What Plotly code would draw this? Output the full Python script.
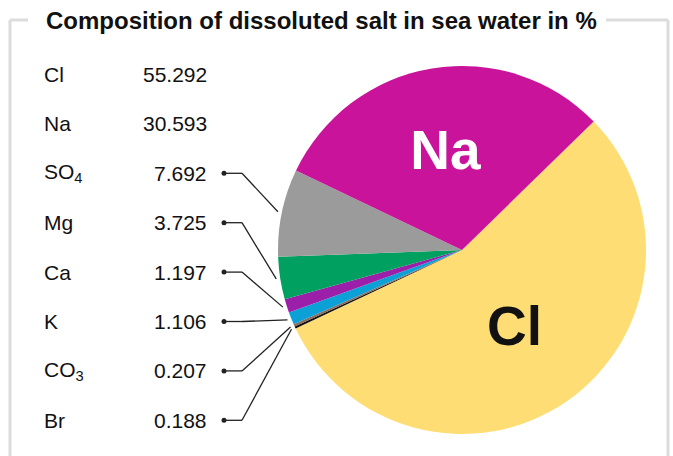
import math
import plotly.graph_objects as go

# ---- data ----
elements = ["Cl", "Na", "SO<sub>4</sub>", "Mg", "Ca", "K", "CO<sub>3</sub>", "Br"]
values = [55.292, 30.593, 7.692, 3.725, 1.197, 1.106, 0.207, 0.188]
value_labels = ["55.292", "30.593", "7.692", "3.725", "1.197", "1.106", "0.207", "0.188"]
colors = ["#FEDE74", "#C8139A", "#9B9B9B", "#00A060", "#9C1FAA", "#0BA0D6", "#8A6C5C", "#111111"]
title = "Composition of dissoluted salt in sea water in %"

# pie drawing order clockwise from the Na/Cl boundary
order = ["Cl", "Br", "CO<sub>3</sub>", "K", "Ca", "Mg", "SO<sub>4</sub>", "Na"]

W, H = 673, 456
CX, CY, R = 462, 250, 184
ROT = 45.7

idx = [elements.index(o) for o in order]
pie_labels = [elements[i] for i in idx]
pie_vals = [values[i] for i in idx]
pie_cols = [colors[i] for i in idx]
tmpl = ["%{label}" if elements[i] in ("Cl", "Na") else "" for i in idx]
txt_cols = ["#111111" if elements[i] == "Cl" else "#FFFFFF" for i in idx]

fig = go.Figure()
fig.add_trace(go.Pie(
    labels=pie_labels, values=pie_vals, sort=False, direction="clockwise",
    rotation=ROT, marker=dict(colors=pie_cols, line=dict(width=0)),
    texttemplate=tmpl, textposition="inside", insidetextorientation="horizontal",
    insidetextfont=dict(family="Liberation Sans", size=55, color=txt_cols, weight="bold"),
    hoverinfo="label+value", showlegend=False,
    domain=dict(x=[(CX - R) / W, (CX + R) / W], y=[1 - (CY + R) / H, 1 - (CY - R) / H]),
))

def px(x):
    return x / W

def py(y):
    return 1 - y / H

shapes = []
annotations = []
frame_col = "#DCDCDC"
# frame
for (x0, y0, x1, y1) in [(10, 20, 10, H + 5), (10, 20, 28, 20), (606, 20, 668, 20), (668, 20, 668, H + 5)]:
    shapes.append(dict(type="line", xref="paper", yref="paper", x0=px(x0), y0=py(y0), x1=px(x1), y1=py(y1),
                       line=dict(color=frame_col, width=3)))

annotations.append(dict(text="<b>" + title + "</b>", xref="paper", yref="paper", x=px(44), y=py(20),
                        xanchor="left", yanchor="middle", showarrow=False,
                        font=dict(family="Liberation Sans", size=24, color="#111111")))

total = sum(values)
row0, step = 74.5, 49.4
for k, name in enumerate(elements):
    yy = row0 + k * step
    annotations.append(dict(text=name, xref="paper", yref="paper", x=px(42), y=py(yy),
                            xanchor="left", yanchor="middle", showarrow=False,
                            font=dict(family="Liberation Sans", size=21, color="#111111")))
    annotations.append(dict(text=value_labels[k], xref="paper", yref="paper", x=px(209), y=py(yy),
                            xanchor="right", yanchor="middle", showarrow=False,
                            font=dict(family="Liberation Sans", size=21, color="#111111")))
    if k >= 2:
        # mid angle of slice
        cum = ROT
        for o in order:
            v = values[elements.index(o)] / total * 360
            if o == name:
                mid = cum + v / 2
                break
            cum += v
        rr = R + 4
        ex = CX + rr * math.sin(math.radians(mid))
        ey = CY - rr * math.cos(math.radians(mid))
        shapes.append(dict(type="line", xref="paper", yref="paper", x0=px(224), y0=py(yy), x1=px(242), y1=py(yy),
                           line=dict(color="#222222", width=1.3)))
        shapes.append(dict(type="line", xref="paper", yref="paper", x0=px(242), y0=py(yy), x1=px(ex), y1=py(ey),
                           line=dict(color="#222222", width=1.3)))
        shapes.append(dict(type="circle", xref="paper", yref="paper", x0=px(221.5), y0=py(yy - 2.5),
                           x1=px(226.5), y1=py(yy + 2.5), fillcolor="#222222", line=dict(width=0)))

fig.update_layout(width=W, height=H, margin=dict(l=0, r=0, t=0, b=0),
                  paper_bgcolor="white", plot_bgcolor="white",
                  shapes=shapes, annotations=annotations)
fig.write_html("out.html", config={"displayModeBar": False},
               post_script="document.body.style.margin='0';document.body.style.overflow='hidden';")
